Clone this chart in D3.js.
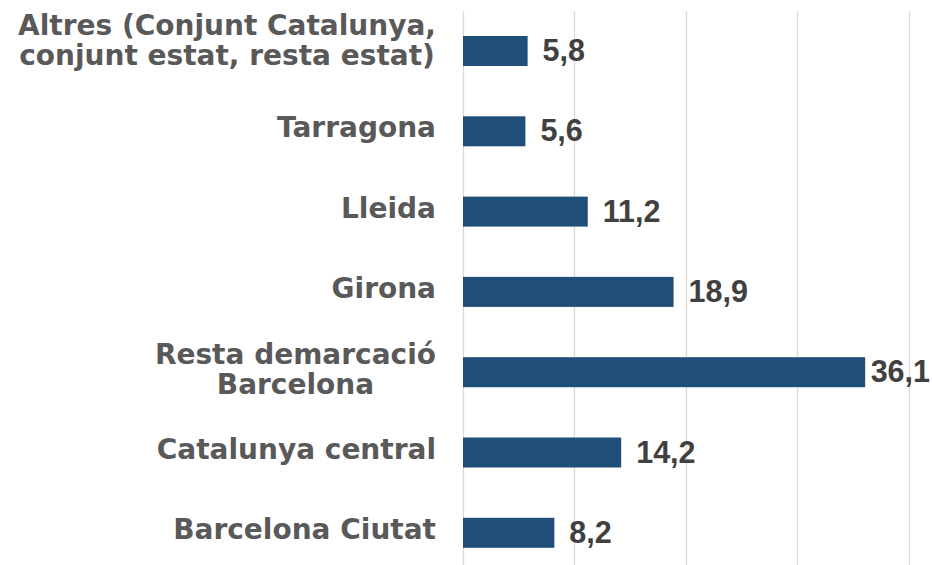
<!DOCTYPE html>
<html>
<head>
<meta charset="utf-8">
<script src="https://cdn.jsdelivr.net/npm/d3@7"></script>
<style>
  html, body { margin: 0; padding: 0; background: #fff; }
  svg { display: block; }
</style>
</head>
<body>
<svg id="chart" width="932" height="565"></svg>
<script>
// Data (top to bottom as displayed)
const categories = [
  "Altres (Conjunt Catalunya,\nconjunt estat, resta estat)",
  "Tarragona",
  "Lleida",
  "Girona",
  "Resta demarcació\nBarcelona",
  "Catalunya central",
  "Barcelona Ciutat"
];
const values = [5.8, 5.6, 11.2, 18.9, 36.1, 14.2, 8.2];
const valueLabels = ["5,8", "5,6", "11,2", "18,9", "36,1", "14,2", "8,2"];
const xTicks = [0, 10, 20, 30, 40];

const W = 932, H = 565;
const svg = d3.select("#chart");

const x = d3.scaleLinear().domain([0, 40]).range([463, 908.6]);
const pad = 1 - 30 / 80.3;
const y = d3.scaleBand().domain(categories).range([10.85, 572.95])
  .paddingInner(pad).paddingOuter(pad / 2);

// gridlines
svg.append("g").selectAll("line").data(xTicks).join("line")
  .attr("x1", d => Math.round(x(d)) + 0.5).attr("x2", d => Math.round(x(d)) + 0.5)
  .attr("y1", 11).attr("y2", H)
  .attr("stroke", "#d9d9d9").attr("stroke-width", 1.3);

// bars
svg.append("g").selectAll("rect").data(categories).join("rect")
  .attr("x", x(0))
  .attr("y", d => y(d))
  .attr("width", (d, i) => x(values[i]) - x(0))
  .attr("height", y.bandwidth())
  .attr("fill", "#1f4e79");

// value labels
const vl = svg.append("g").selectAll("text").data(categories).join("text")
  .attr("font-family", "'Liberation Sans', Arial, sans-serif")
  .attr("font-weight", "bold")
  .attr("font-size", 30.5)
  .attr("fill", "#404040")
  .attr("y", d => y(d) + y.bandwidth() / 2 + 10)
  .text((d, i) => valueLabels[i]);
vl.each(function(d, i) {
  const w = this.getComputedTextLength();
  const xs = Math.min(x(values[i]) + 15, 930 - w);
  d3.select(this).attr("x", xs);
});

// category labels
const lineH = 30;
const labelRight = 436;
const cg = svg.append("g");
categories.forEach((c, i) => {
  const lines = c.split("\n");
  const cy = y(c) + y.bandwidth() / 2;
  let first = cy + (lines.length > 1 ? 7 : 6) - (lines.length - 1) * lineH / 2;
  // the top label block is kept close to the plot's top edge
  if (i === 0) first = Math.min(first, y.range()[0] + 24);
  const t = cg.append("text")
    .attr("font-family", "'DejaVu Sans', sans-serif")
    .attr("font-weight", "bold")
    .attr("font-size", 28)
    .attr("fill", "#595959");
  const spans = lines.map((ln, k) => t.append("tspan").attr("y", first + k * lineH).text(ln));
  let maxW = 0;
  spans.forEach(s => { maxW = Math.max(maxW, s.node().getComputedTextLength()); });
  t.attr("text-anchor", "middle");
  spans.forEach(s => s.attr("x", labelRight - maxW / 2));
});
</script>
</body>
</html>
